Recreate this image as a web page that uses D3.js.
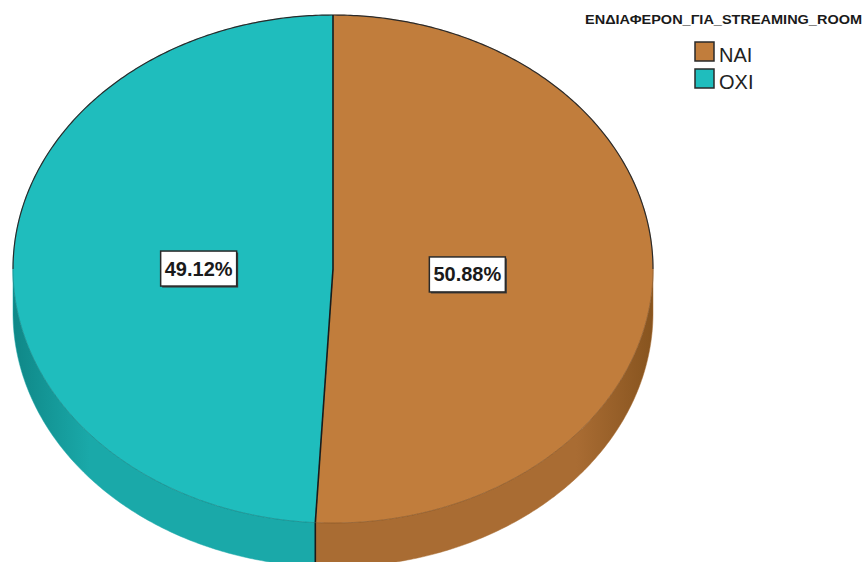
<!DOCTYPE html>
<html>
<head>
<meta charset="utf-8">
<script src="https://cdn.jsdelivr.net/npm/d3@7"></script>
<style>
  html, body { margin: 0; padding: 0; background: #fff; }
  svg { display: block; }
</style>
</head>
<body>
<svg id="chart" width="864" height="562"></svg>
<script>
// Interest in a streaming room: share of respondents (%)
const categories = ["NAI", "OXI"];
const percents = [50.88, 49.12];
const legendTitle = "ΕΝΔΙΑΦΕΡΟΝ_ΓΙΑ_STREAMING_ROOM";

const topColors  = ["#C17D3C", "#1FBDBD"];
const sideMid    = ["#A96C33", "#1AA9A9"];
const sideEdge   = ["#87541F", "#0F8787"];

const svg = d3.select("#chart");
const W = 864, H = 562;

// pie geometry (tilted disc)
const cx = 333, cy = 269, rx = 320, ry = 254, depth = 44;

const slices = d3.pie().sort(null).value(d => d)(percents);

const pt = (a, dy = 0) => [cx + rx * Math.sin(a), cy - ry * Math.cos(a) + dy];

function arcPoints(a0, a1, dy = 0) {
  const n = Math.max(2, Math.ceil(Math.abs(a1 - a0) / 0.01));
  return d3.range(n + 1).map(i => pt(a0 + (a1 - a0) * i / n, dy));
}
const line = d3.line();

// side gradients
const defs = svg.append("defs");
slices.forEach((s, i) => {
  const g = defs.append("linearGradient")
    .attr("id", "side" + i)
    .attr("gradientUnits", "userSpaceOnUse")
    .attr("x1", cx - rx).attr("x2", cx + rx).attr("y1", 0).attr("y2", 0);
  g.append("stop").attr("offset", 0).attr("stop-color", sideEdge[i]);
  g.append("stop").attr("offset", 0.12).attr("stop-color", sideMid[i]);
  g.append("stop").attr("offset", 0.88).attr("stop-color", sideMid[i]);
  g.append("stop").attr("offset", 1).attr("stop-color", sideEdge[i]);
});

// visible side walls (front half of the disc)
const gSide = svg.append("g");
slices.forEach((s, i) => {
  const b0 = Math.max(s.startAngle, Math.PI / 2);
  const b1 = Math.min(s.endAngle, 3 * Math.PI / 2);
  if (b1 <= b0) return;
  const pts = arcPoints(b0, b1).concat(arcPoints(b1, b0, depth));
  gSide.append("path")
    .attr("d", line(pts) + "Z")
    .attr("fill", `url(#side${i})`)
    .attr("stroke", sideMid[i]).attr("stroke-width", 0.5);
});
// seam at the slice boundary on the wall
slices.forEach(s => {
  const a = s.endAngle;
  if (a > Math.PI / 2 && a < 3 * Math.PI / 2) {
    gSide.append("path").attr("d", line([pt(a), pt(a, depth)]))
      .attr("stroke", "#1a1a1a").attr("stroke-width", 1.6);
  }
});

// top faces
const gTop = svg.append("g");
slices.forEach((s, i) => {
  const pts = [[cx, cy]].concat(arcPoints(s.startAngle, s.endAngle));
  gTop.append("path")
    .attr("d", line(pts) + "Z")
    .attr("fill", topColors[i])
    .attr("stroke", topColors[i]).attr("stroke-width", 0.5);
});
// rim of the top face
gTop.append("path")
  .attr("d", line(arcPoints(-Math.PI / 2, Math.PI / 2)))
  .attr("fill", "none").attr("stroke", "#2a2a2a").attr("stroke-width", 1.2);
gTop.append("path")
  .attr("d", line(arcPoints(Math.PI / 2, 3 * Math.PI / 2)))
  .attr("fill", "none").attr("stroke", "rgba(0,0,0,0.25)").attr("stroke-width", 0.8);
// slice boundaries
slices.forEach(s => {
  gTop.append("path").attr("d", line([[cx, cy], pt(s.startAngle)]))
    .attr("stroke", "#1a1a1a").attr("stroke-width", 1.6);
});

// percentage labels
const gLab = svg.append("g");
slices.forEach((s, i) => {
  const mid = (s.startAngle + s.endAngle) / 2;
  const [lx, ly0] = [cx + 0.42 * rx * Math.sin(mid), cy - 0.42 * ry * Math.cos(mid)];
  const ly = ly0 + 2.5;
  const bw = 76, bh = 35;
  gLab.append("rect")
    .attr("x", lx - bw / 2 + 1.5).attr("y", ly - bh / 2 + 1.5)
    .attr("width", bw).attr("height", bh)
    .attr("fill", "#3a3a3a");
  gLab.append("rect")
    .attr("x", lx - bw / 2).attr("y", ly - bh / 2)
    .attr("width", bw).attr("height", bh)
    .attr("fill", "#fff").attr("stroke", "#2a2a2a").attr("stroke-width", 1.5);
  gLab.append("text")
    .attr("x", lx).attr("y", ly + 7)
    .attr("text-anchor", "middle")
    .attr("font-family", "Liberation Sans, Arial, sans-serif")
    .attr("font-weight", "bold").attr("font-size", 20)
    .attr("fill", "#1a1a1a")
    .text(d3.format(".2f")(percents[i]) + "%");
});

// legend
const gLeg = svg.append("g");
gLeg.append("text")
  .attr("x", 585).attr("y", 24)
  .attr("font-family", "Liberation Sans, Arial, sans-serif")
  .attr("font-weight", "bold").attr("font-size", 12.5)
  .attr("textLength", 277).attr("lengthAdjust", "spacingAndGlyphs")
  .attr("fill", "#1a1a1a")
  .text(legendTitle);
categories.forEach((c, i) => {
  const y = 42 + i * 27;
  gLeg.append("rect")
    .attr("x", 695).attr("y", y).attr("width", 19).attr("height", 19)
    .attr("fill", topColors[i]).attr("stroke", "#2a2a2a").attr("stroke-width", 1.5);
  gLeg.append("text")
    .attr("x", 719).attr("y", y + 20)
    .attr("font-family", "Liberation Sans, Arial, sans-serif")
    .attr("font-size", 20).attr("fill", "#222")
    .text(c);
});
</script>
</body>
</html>
